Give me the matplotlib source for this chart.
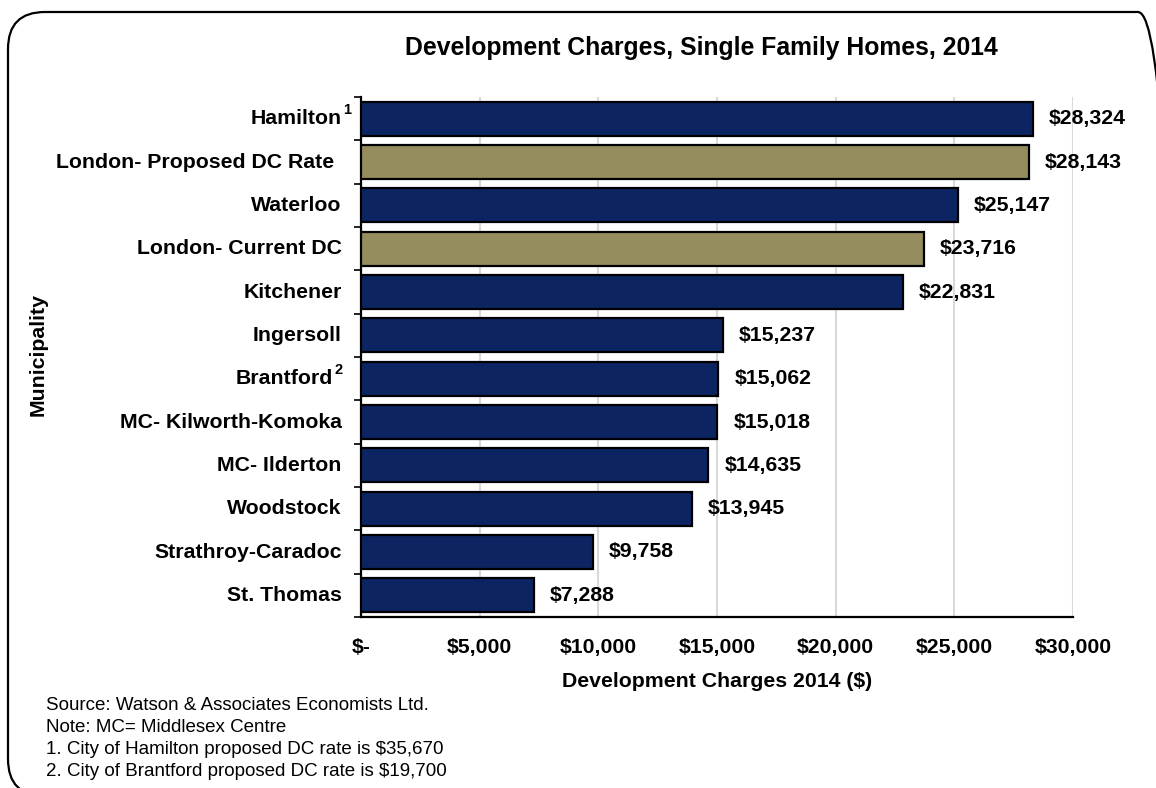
import matplotlib
matplotlib.use("Agg")
import matplotlib.pyplot as plt
import matplotlib.transforms as mtransforms
from matplotlib.patches import FancyBboxPatch
from matplotlib.ticker import FuncFormatter, MultipleLocator

plt.rcParams['font.family'] = ['Liberation Sans', 'DejaVu Sans']

# ---- data ----
municipalities = ["Hamilton", "London- Proposed DC Rate ", "Waterloo", "London- Current DC",
                  "Kitchener", "Ingersoll", "Brantford", "MC- Kilworth-Komoka",
                  "MC- Ilderton", "Woodstock", "Strathroy-Caradoc", "St. Thomas"]
footnote_marks = ["1", "", "", "", "", "", "2", "", "", "", "", ""]
charges = [28324, 28143, 25147, 23716, 22831, 15237, 15062, 15018, 14635, 13945, 9758, 7288]
is_london = [False, True, False, True, False, False, False, False, False, False, False, False]
x_ticks = [0, 5000, 10000, 15000, 20000, 25000, 30000]

title = "Development Charges, Single Family Homes, 2014"
x_label = "Development Charges 2014 ($)"
y_label = "Municipality"
notes = ["Source: Watson & Associates Economists Ltd.",
         "Note: MC= Middlesex Centre",
         "1. City of Hamilton proposed DC rate is $35,670",
         "2. City of Brantford proposed DC rate is $19,700"]

NAVY = "#0c2461"
KHAKI = "#968d5e"
FS = 15.3

W, H = 1156, 788
fig = plt.figure(figsize=(W / 100, H / 100), dpi=100)

# rounded frame (extends beyond right/bottom edge as in reference)
frame = FancyBboxPatch((8 / W, -8 / H), (1175 - 8) / W, (H - 12 + 8) / H,
                       boxstyle="round,pad=0,rounding_size=0.032",
                       transform=fig.transFigure, facecolor="none",
                       edgecolor="black", linewidth=1.6, mutation_aspect=W / H)
fig.patches.append(frame)

ax = fig.add_axes([361 / W, 1 - 617 / H, (1073 - 361) / W, (617 - 97) / H])

ypos = list(range(len(municipalities)))
colors = [KHAKI if l else NAVY for l in is_london]
ax.barh(ypos, charges, height=0.79, color=colors, edgecolor="black",
        linewidth=1.6, zorder=3)

ax.set_xlim(0, 30000)
ax.set_ylim(len(municipalities) - 0.5, -0.5)
ax.set_xticks(x_ticks)
ax.xaxis.set_major_formatter(FuncFormatter(lambda v, p: "$-" if v == 0 else f"${v:,.0f}"))
ax.tick_params(axis="x", length=0, pad=15, labelsize=FS)
for lbl in ax.get_xticklabels():
    lbl.set_fontweight("bold")

ax.set_yticks(ypos)
ax.set_yticklabels([])
ax.yaxis.set_minor_locator(MultipleLocator(1, offset=0.5))
ax.tick_params(axis="y", which="major", length=0)
ax.tick_params(axis="y", which="minor", length=5, width=1.2, color="black")

ax.grid(axis="x", color="#d9d9d9", linewidth=1.5, zorder=0)
ax.set_axisbelow(True)
for s in ["top", "right"]:
    ax.spines[s].set_visible(False)
ax.spines["left"].set_linewidth(1.6)
ax.spines["bottom"].set_linewidth(1.6)

# category labels
trans = mtransforms.blended_transform_factory(ax.transAxes, ax.transData)
for y, name, mark in zip(ypos, municipalities, footnote_marks):
    txt = name.rstrip()
    off = 14
    if name != txt:
        off += 5
    if mark == "2":
        off += 6
    ax.annotate(txt, xy=(0, y), xycoords=trans, xytext=(-off, 0), textcoords="offset points",
                ha="right", va="center", fontsize=FS, fontweight="bold")
    if mark:
        ax.annotate(mark, xy=(0, y), xycoords=trans, xytext=(-off + 1.0, 6.5),
                    textcoords="offset points", ha="left", va="center",
                    fontsize=10.5, fontweight="bold")

# value labels
for y, v in zip(ypos, charges):
    ax.annotate(f"${v:,}", xy=(v, y), xytext=(11.5, 0), textcoords="offset points",
                ha="left", va="center", fontsize=FS, fontweight="bold")

ax.set_xlabel(x_label, fontsize=FS, fontweight="bold", labelpad=11)
fig.text(38 / W, 1 - 355 / H, y_label, rotation=90, ha="center", va="center",
         fontsize=FS, fontweight="bold")
fig.text(701 / W, 1 - 48 / H, title, ha="center", va="center",
         fontsize=17.8, fontweight="bold")

for i, n in enumerate(notes):
    fig.text(46 / W, 1 - (705 + 22 * i) / H, n, ha="left", va="center", fontsize=13.5)

fig.savefig("out.png", dpi=100)
